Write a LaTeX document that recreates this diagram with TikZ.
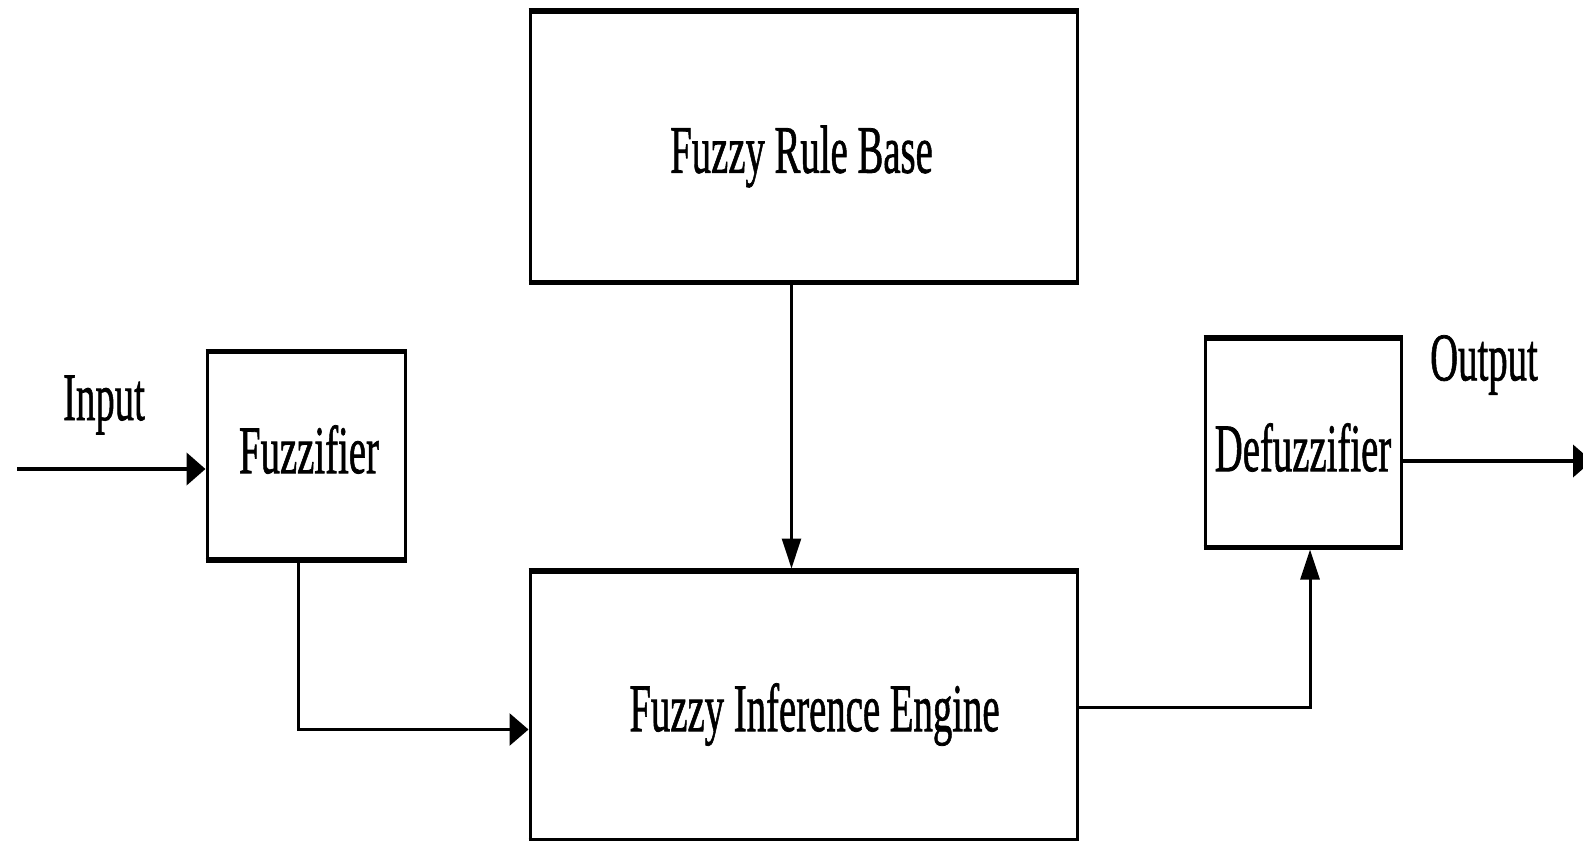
\documentclass[tikz,border=0pt]{standalone}
\usepackage{fontspec}
\usepackage{graphicx}
\setmainfont{Liberation Serif}
\newfontfamily\lblfont[FakeBold=1.2]{Liberation Serif}
\usetikzlibrary{arrows.meta,calc}
\newcommand{\cnd}[1]{\scalebox{0.57}[1]{\fontsize{68}{80}\lblfont #1}}
\tikzset{
  blockbox/.style={draw=black, line width=3pt, rectangle, inner sep=0pt},
  hconn/.style={line width=3.5pt, -{Triangle[length=19pt,width=32pt]}},
  vconn/.style={line width=2.5pt, -{Triangle[length=30pt,width=19pt]}},
  lbl/.style={inner sep=0pt}
}
\begin{document}
\begin{tikzpicture}[x=1pt,y=-1pt]
\useasboundingbox (0,0) rectangle (1583,841);
\node[blockbox, minimum width=198pt, minimum height=206pt,
  label={[lbl,xshift=3pt,yshift=6pt]center:\cnd{Fuzzifier}}] (fz) at (306,455.5) {};
\node[blockbox, minimum width=547pt, minimum height=269pt,
  label={[lbl,xshift=-2pt,yshift=-10pt]center:\cnd{Fuzzy Rule Base}}] (rb) at (803.5,146.5) {};
\node[blockbox, minimum width=547pt, minimum height=267pt,
  label={[lbl,xshift=11pt,yshift=-9pt]center:\cnd{Fuzzy Inference Engine}}] (ie) at (803.5,705.5) {};
\node[blockbox, minimum width=196pt, minimum height=207pt,
  label={[lbl,xshift=0pt,yshift=-5pt]center:\cnd{Defuzzifier}}] (df) at (1303,442.5) {};
\foreach \n in {fz,rb,ie,df}
  \draw[line width=5pt] (\n.north west) -- (\n.north east) (\n.south west) -- (\n.south east);
\node[lbl] (inl) at (104,405) {\cnd{Input}};
\node[lbl] (outl) at (1484,365) {\cnd{Output}};
\coordinate (in) at (17,469);
\coordinate (out) at (1592,461);
\draw[hconn, line width=4.5pt] (in) -- (in -| fz.west);
\draw[vconn] ([xshift=-12pt]rb.south) -- ([xshift=-12pt,yshift=2pt]ie.north);
\draw[line width=3pt, -{Triangle[length=19pt,width=32pt]}] ([xshift=-8pt]fz.south) |- ([yshift=-24pt]ie.west);
\draw[line width=3pt, -{Triangle[length=30pt,width=19pt]}] ([yshift=-1.5pt]ie.east) -| ([xshift=7pt,yshift=-2pt]df.south);
\draw[hconn, line width=4pt] ([yshift=-18.5pt]df.east) -- (out);
\end{tikzpicture}
\end{document}
